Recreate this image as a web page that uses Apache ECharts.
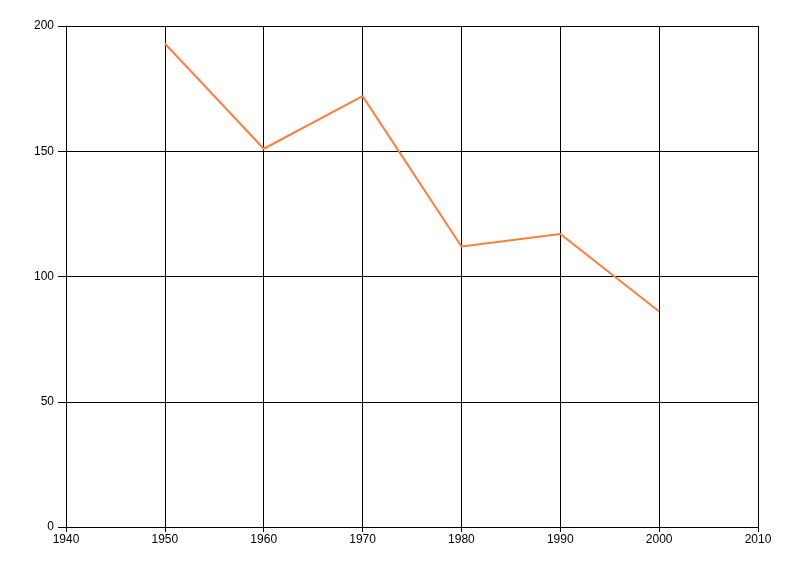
<!DOCTYPE html>
<html>
<head>
<meta charset="utf-8">
<script src="https://cdn.jsdelivr.net/npm/echarts@6/dist/echarts.min.js"></script>
<style>html,body{margin:0;padding:0;background:#fff;}#c{width:800px;height:576px;}</style>
</head>
<body>
<div id="c"></div>
<script>
const years = [1950, 1960, 1970, 1980, 1990, 2000];
const values = [193, 151, 172, 112, 117, 86];
const xTicks = [1940, 1950, 1960, 1970, 1980, 1990, 2000, 2010];
const yTicks = [0, 50, 100, 150, 200];

const chart = echarts.init(document.getElementById('c'), null, {renderer: 'canvas'});
const font = {fontFamily: 'Liberation Sans', fontSize: 12, color: '#000'};
chart.setOption({
  animation: false,
  grid: {left: 66, right: 42, top: 26, bottom: 49, containLabel: false},
  xAxis: {
    type: 'value', min: xTicks[0], max: xTicks[xTicks.length - 1], interval: 10,
    axisLine: {show: true, lineStyle: {color: '#000', width: 1}},
    axisTick: {show: true, length: 5, lineStyle: {color: '#000'}},
    axisLabel: Object.assign({margin: 7, formatter: v => String(v)}, font),
    splitLine: {show: true, lineStyle: {color: '#000', width: 1}}
  },
  yAxis: {
    type: 'value', min: yTicks[0], max: yTicks[yTicks.length - 1], interval: 50,
    axisLine: {show: true, lineStyle: {color: '#000', width: 1}},
    axisTick: {show: true, length: 8, lineStyle: {color: '#000'}},
    axisLabel: Object.assign({margin: 12}, font),
    splitLine: {show: true, lineStyle: {color: '#000', width: 1}}
  },
  series: [{
    type: 'line',
    data: years.map((y, i) => [y, values[i]]),
    symbol: 'none',
    lineStyle: {color: '#FF7F3F', width: 2},
    itemStyle: {color: '#FF7F3F'}
  }]
});
</script>
</body>
</html>
